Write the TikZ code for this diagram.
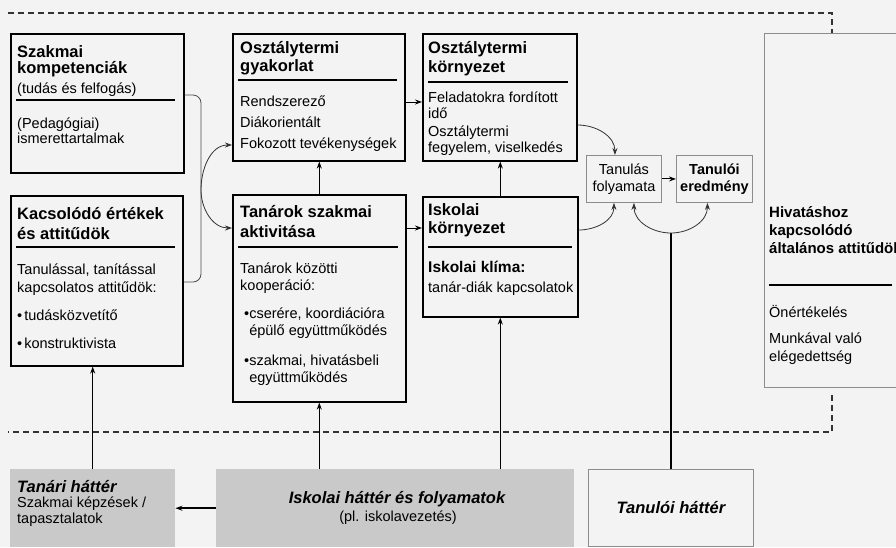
\documentclass[tikz,border=0pt]{standalone}
\usepackage{fontspec}
\setmainfont{Liberation Sans}
\usetikzlibrary{arrows.meta,calc,positioning}
\definecolor{hatter}{HTML}{F3F3F3}
\definecolor{szurke}{HTML}{C9C9C9}
\definecolor{keret}{HTML}{8C8C8C}

\begin{document}
\begin{tikzpicture}[x=1pt,y=-1pt,>={Stealth[length=7pt,width=5pt]},
		box/.style={draw,line width=1.6pt,anchor=north west,inner sep=0pt},
		vekony/.style={draw=keret,line width=0.9pt,anchor=north west,inner sep=0pt},
		hatterbox/.style={fill=szurke,anchor=north west,inner sep=0pt},
		cim/.style={anchor=base west,align=left,inner sep=0pt,font=\fontsize{16.5}{18}\selectfont\bfseries},
		szoveg/.style={anchor=base west,align=left,inner sep=0pt,font=\fontsize{14.5}{16.5}\selectfont},
		valaszto/.style={line width=1.4pt},
		szaggatott/.style={line width=1.3pt,dash pattern=on 6pt off 4pt,draw=black!80},
		nyil/.style={->,line width=1pt},
		ivnyil/.style={->,line width=0.8pt,draw=black!80},
		vonal/.style={line width=0.8pt,draw=black!70}]
	\useasboundingbox (0,0) rectangle (896,547);
	\fill[hatter] (0,0) rectangle (896,547);

	% dashed frame
	\draw[szaggatott] (8,13) -- (832,13) -- (832,48);
	\draw[szaggatott] (832,395) -- (832,432) -- (8,432);

	% boxes
	\node[box,minimum width=173,minimum height=139] (kompetencia) at (10,33) {};
	\node[box,minimum width=172,minimum height=170] (ertekek) at (10,195) {};
	\node[box,minimum width=172,minimum height=127] (gyakorlat) at (232,33) {};
	\node[box,minimum width=173,minimum height=207] (aktivitas) at (232,194) {};
	\node[box,minimum width=154,minimum height=127] (kornyezet) at (422,33) {};
	\node[box,minimum width=155,minimum height=120] (iskolai) at (422,196) {};
	\node[vekony,minimum width=75,minimum height=47,align=center,font=\fontsize{14.5}{17}\selectfont] (folyamat) at (586,155) {Tanulás\\folyamata};
	\node[vekony,minimum width=76,minimum height=47,align=center,font=\fontsize{14.5}{17}\selectfont\bfseries] (eredmeny) at (676,155) {Tanulói\\eredmény};
	\node[vekony,fill=hatter,minimum width=150,minimum height=354] (hivatas) at (764,33) {};
	\node[hatterbox,minimum width=165,minimum height=78] (tanari) at (10,469) {};
	\node[hatterbox,minimum width=358,minimum height=78] (iskhatter) at (216,469) {};
	\node[vekony,minimum width=165,minimum height=77] (tanuloi) at (588,469) {};

	% texts
	\node[cim,font=\fontsize{16.5}{16}\selectfont\bfseries] (kompetencia-cim) at (17,73) {Szakmai\\kompetenciák};
	\node[szoveg] (kompetencia-al) at (17,93) {(tudás és felfogás)};
	\draw[valaszto] (16,100) -- (175,100);
	\node[szoveg,font=\fontsize{14.5}{15}\selectfont] (kompetencia-tart) at (17,143) {(Pedagógiai)\\ismerettartalmak};

	\node[cim,font=\fontsize{16.5}{20.5}\selectfont\bfseries] (ertekek-cim) at (17,239.5) {Kacsolódó értékek\\és attitűdök};
	\draw[valaszto] (16,247) -- (175,247);
	\node[szoveg,font=\fontsize{14.5}{18}\selectfont] (ertekek-tart) at (17,292) {Tanulással, tanítással\\kapcsolatos attitűdök:};
	\node[szoveg] (ertekek-b1) at (17,320) {•\hspace{2pt}tudásközvetítő};
	\node[szoveg] (ertekek-b2) at (17,348) {•\hspace{2pt}konstruktivista};

	\node[cim] (gyakorlat-cim) at (240,71) {Osztálytermi\\gyakorlat};
	\draw[valaszto] (238,80) -- (397,80);
	\node[szoveg,font=\fontsize{14.5}{21}\selectfont] (gyakorlat-tart) at (240,148) {Rendszerező\\Diákorientált\\Fokozott tevékenységek};

	\node[cim,font=\fontsize{16.5}{20}\selectfont\bfseries] (aktivitas-cim) at (240,237) {Tanárok szakmai\\aktivitása};
	\draw[valaszto] (238,247) -- (398,247);
	\node[szoveg,font=\fontsize{14.5}{17.5}\selectfont] (aktivitas-tart) at (240,290.5) {Tanárok közötti\\kooperáció:};
	\node[szoveg,font=\fontsize{14.5}{17.5}\selectfont] (aktivitas-b1) at (244,335.5) {•cserére, koordiációra\\\hphantom{•}épülő együttműködés};
	\node[szoveg,font=\fontsize{14.5}{17.5}\selectfont] (aktivitas-b2) at (244,382.5) {•szakmai, hivatásbeli\\\hphantom{•}együttműködés};

	\node[cim,font=\fontsize{16.5}{19.5}\selectfont\bfseries] (kornyezet-cim) at (428,72.5) {Osztálytermi\\környezet};
	\draw[valaszto] (428,82) -- (568,82);
	\node[szoveg,font=\fontsize{14.5}{16}\selectfont] (kornyezet-t1) at (428,118) {Feladatokra fordított\\idő};
	\node[szoveg,font=\fontsize{14.5}{16}\selectfont] (kornyezet-t2) at (428,152) {Osztálytermi\\fegyelem, viselkedés};

	\node[cim] (iskolai-cim) at (428,233) {Iskolai\\környezet};
	\draw[valaszto] (428,247) -- (572,247);
	\node[cim,font=\fontsize{15.5}{16}\selectfont\bfseries] (iskolai-klima) at (428,272) {Iskolai klíma:};
	\node[szoveg] (iskolai-tart) at (428,292) {tanár-diák kapcsolatok};

	\node[cim,font=\fontsize{15}{18}\selectfont\bfseries] (hivatas-cim) at (769,253) {Hivatáshoz\\kapcsolódó\\általános attitűdök};
	\draw[valaszto] (769,285) -- (892,285);
	\node[szoveg] (hivatas-t1) at (769,317) {Önértékelés};
	\node[szoveg,font=\fontsize{14.5}{18}\selectfont] (hivatas-t2) at (769,361) {Munkával való\\elégedettség};

	\node[cim,font=\fontsize{16.5}{17}\selectfont\bfseries\itshape] (tanari-cim) at (17,492) {Tanári háttér};
	\node[szoveg,font=\fontsize{14.5}{16}\selectfont] (tanari-tart) at (17,523) {Szakmai képzések /\\tapasztalatok};
	\node[anchor=base,inner sep=0pt,font=\fontsize{16.5}{17}\selectfont\bfseries\itshape] (iskhatter-cim) at (397,503) {Iskolai háttér és folyamatok};
	\node[anchor=base,inner sep=0pt,font=\fontsize{14.5}{16}\selectfont] (iskhatter-al) at (398,521) {(pl. iskolavezetés)};
	\node[inner sep=0pt,font=\fontsize{16.5}{17}\selectfont\bfseries\itshape] (tanuloi-cim) at (tanuloi.center) {Tanulói háttér};

	% connectors
	\coordinate (kapocs) at (201,190);
	\draw[vonal,rounded corners=8] ([yshift=-62]kompetencia.north east) -| (kapocs) |- ([yshift=-87]ertekek.north east);
	\draw[ivnyil] (kapocs) to[out=90,in=180] ([yshift=-112]gyakorlat.north west);
	\draw[ivnyil] (kapocs) to[out=-90,in=180] ([yshift=-34]aktivitas.north west);

	\draw[nyil] ([yshift=-69]gyakorlat.north east) -- ([yshift=-69]gyakorlat.north east -| kornyezet.west);
	\draw[nyil] ([yshift=-34]aktivitas.north east) -- ([yshift=-34]aktivitas.north east -| iskolai.west);
	\draw[nyil] (aktivitas.north) -- (aktivitas.north |- gyakorlat.south);
	\draw[nyil] (iskolai.north) -- (iskolai.north |- kornyezet.south);

	\draw[ivnyil] ([yshift=-92]kornyezet.north east) to[out=0,in=90] ([xshift=-9]folyamat.north);
	\draw[ivnyil] ([yshift=-34]iskolai.north east) to[out=0,in=-90] ([xshift=-10]folyamat.south);
	\draw[nyil] (folyamat.east) -- (eredmeny.west);

	\coordinate (elagazas) at (tanuloi.north |- 0,233);
	\draw[line width=1.8pt] (tanuloi.north) -- (elagazas);
	\draw[ivnyil] (elagazas) to[out=180,in=-90] ([xshift=10]folyamat.south);
	\draw[ivnyil] (elagazas) to[out=0,in=-90] ([xshift=-7]eredmeny.south);

	\draw[nyil] (tanari.north |- iskhatter.north) -- (tanari.north |- ertekek.south);
	\draw[nyil] (aktivitas.south |- iskhatter.north) -- (aktivitas.south);
	\draw[nyil] (iskolai.south |- iskhatter.north) -- (iskolai.south);
	\draw[->,line width=1.6pt] (iskhatter.west) -- (tanari.east);
\end{tikzpicture}
\end{document}
